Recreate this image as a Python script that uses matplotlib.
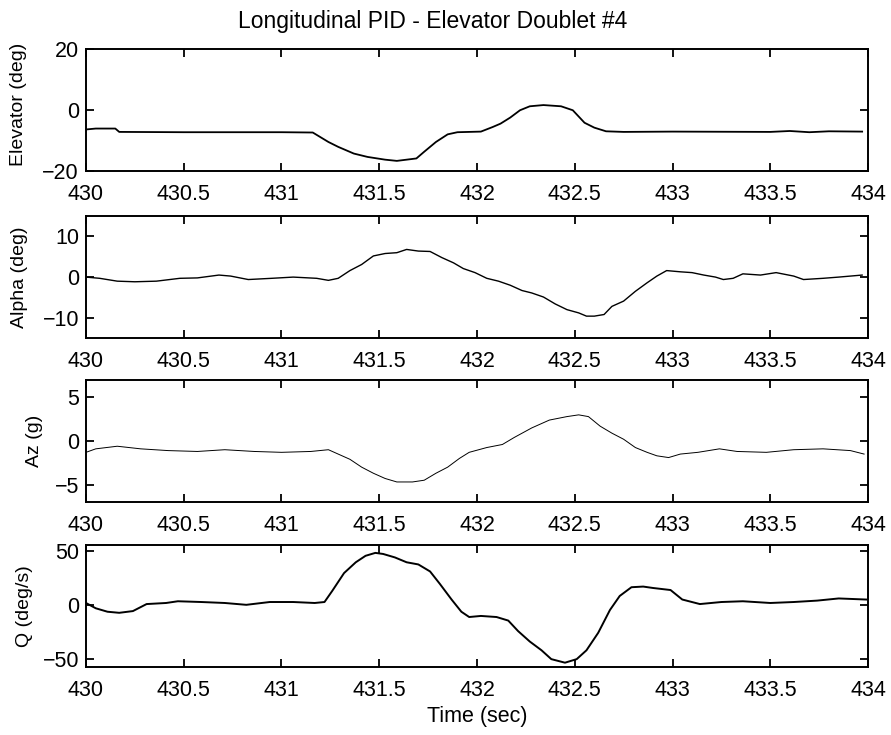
import matplotlib
matplotlib.use("Agg")
import matplotlib.pyplot as plt
import numpy as np

plt.rcParams['font.family'] = ['Liberation Sans', 'DejaVu Sans']

# Elevator (deg)
t_elev = [430.0, 430.05, 430.15, 430.17, 430.5, 431.0, 431.16, 431.24, 431.29, 431.37,
          431.44, 431.53, 431.59, 431.64, 431.69, 431.73, 431.79, 431.85, 431.9, 432.02,
          432.08, 432.12, 432.17, 432.22, 432.27, 432.34, 432.43, 432.49, 432.55, 432.6,
          432.66, 432.75, 433.0, 433.5, 433.6, 433.7, 433.8, 433.97]
elev = [-6.3, -6.0, -6.0, -7.1, -7.2, -7.2, -7.3, -10.4, -12.0, -14.2,
        -15.3, -16.2, -16.6, -16.2, -15.8, -13.6, -10.4, -7.9, -7.2, -7.0,
        -5.5, -4.4, -2.4, 0.0, 1.3, 1.7, 1.3, 0.0, -4.1, -5.7,
        -6.9, -7.1, -7.0, -7.1, -6.8, -7.2, -6.9, -7.0]

# Alpha (deg)
t_alpha = [430.0, 430.07, 430.16, 430.25, 430.36, 430.48, 430.57, 430.68, 430.74, 430.83,
           430.95, 431.06, 431.18, 431.24, 431.29, 431.35, 431.41, 431.47, 431.53, 431.59,
           431.64, 431.7, 431.76, 431.82, 431.88, 431.93, 431.99, 432.05, 432.11, 432.17,
           432.23, 432.28, 432.34, 432.4, 432.46, 432.52, 432.56, 432.6, 432.65, 432.69,
           432.75, 432.81, 432.87, 432.92, 432.97, 433.04, 433.1, 433.16, 433.22, 433.26,
           433.31, 433.36, 433.45, 433.53, 433.62, 433.67, 433.77, 433.85, 433.97]
alpha = [0.0, -0.3, -1.0, -1.15, -1.0, -0.3, -0.2, 0.5, 0.25, -0.6,
         -0.3, 0.0, -0.3, -0.8, -0.3, 1.6, 3.1, 5.2, 5.8, 6.0,
         6.8, 6.4, 6.3, 4.8, 3.5, 2.1, 1.1, -0.3, -1.0, -2.0,
         -3.3, -3.9, -4.9, -6.6, -8.0, -8.8, -9.6, -9.6, -9.2, -7.2,
         -5.9, -3.5, -1.4, 0.25, 1.6, 1.3, 1.1, 0.5, 0.0, -0.6,
         -0.3, 0.8, 0.5, 1.1, 0.25, -0.6, -0.3, 0.0, 0.5]

# Az (g)
t_az = [430.0, 430.05, 430.16, 430.28, 430.42, 430.57, 430.71, 430.86, 431.0, 431.15,
        431.24, 431.29, 431.35, 431.41, 431.47, 431.53, 431.59, 431.67, 431.73, 431.79,
        431.85, 431.91, 431.96, 432.05, 432.13, 432.19, 432.28, 432.37, 432.46, 432.52,
        432.57, 432.63, 432.69, 432.75, 432.81, 432.87, 432.92, 432.98, 433.04, 433.13,
        433.24, 433.33, 433.48, 433.62, 433.77, 433.91, 433.98]
az = [-1.3, -0.9, -0.6, -0.9, -1.1, -1.2, -1.0, -1.2, -1.3, -1.2,
      -1.0, -1.5, -2.1, -3.0, -3.7, -4.3, -4.7, -4.7, -4.5, -3.7,
      -3.0, -2.0, -1.3, -0.75, -0.4, 0.4, 1.5, 2.4, 2.8, 3.0,
      2.8, 1.7, 0.9, 0.2, -0.75, -1.3, -1.7, -1.9, -1.5, -1.3,
      -0.9, -1.2, -1.3, -1.0, -0.9, -1.1, -1.5]

# Q (deg/s)
t_q = [430.0, 430.05, 430.11, 430.17, 430.24, 430.31, 430.41, 430.47, 430.59, 430.71,
       430.82, 430.94, 431.06, 431.17, 431.22, 431.26, 431.32, 431.38, 431.43, 431.48,
       431.52, 431.58, 431.64, 431.7, 431.76, 431.81, 431.87, 431.92, 431.96, 432.02,
       432.1, 432.16, 432.21, 432.27, 432.33, 432.38, 432.45, 432.51, 432.56, 432.62,
       432.68, 432.73, 432.79, 432.85, 432.9, 432.99, 433.05, 433.14, 433.25, 433.36,
       433.5, 433.62, 433.74, 433.85, 433.99]
q = [2.3, -2.6, -5.8, -6.8, -5.2, 1.3, 2.3, 3.9, 3.2, 2.3,
     0.6, 3.2, 3.2, 2.3, 3.2, 13.6, 30.0, 40.0, 46.0, 48.7,
     47.7, 44.5, 40.0, 38.0, 31.5, 20.0, 5.5, -5.8, -10.7, -9.7,
     -10.7, -14.0, -23.7, -33.4, -41.5, -49.7, -53.0, -49.7, -41.5, -25.3,
     -4.2, 8.8, 16.9, 17.5, 16.2, 14.3, 5.5, 1.3, 3.2, 3.9,
     2.3, 3.2, 4.5, 6.5, 5.5]

xticks = np.arange(430, 434.01, 0.5)
xtick_labels = ['430', '430.5', '431', '431.5', '432', '432.5', '433', '433.5', '434']

# (t, y, etiket, ylim, yticks, cizgi kalinligi, alt kenar, etiket x, etiket y)
panels = [
    (t_elev, elev, 'Elevator (deg)', (-20, 20), [-20, 0, 20], 1.3, 0.767, -0.075, 0.55),
    (t_alpha, alpha, 'Alpha (deg)', (-15, 15), [-10, 0, 10], 1.0, 0.540, -0.074, 0.5),
    (t_az, az, 'Az (g)', (-7, 7), [-5, 0, 5], 0.7, 0.317, -0.055, 0.5),
    (t_q, q, 'Q (deg/s)', (-57, 56), [-50, 0, 50], 1.4, 0.0925, -0.068, 0.5),
]

fig = plt.figure(figsize=(8.91, 7.35), dpi=100)

for t, y, lab, ylim, yt, lw, bottom, lx, ly in panels:
    ax = fig.add_axes([0.0965, bottom, 0.8777, 0.166])
    ax.plot(t, y, color='black', linewidth=lw)
    ax.set_xlim(430, 434)
    ax.set_ylim(*ylim)
    ax.set_xticks(xticks)
    ax.set_xticklabels(xtick_labels)
    ax.set_yticks(yt)
    ax.tick_params(direction='in', top=True, right=True, length=6, width=1.3,
                   labelsize=15.5)
    ax.tick_params(axis='x', pad=9)
    ax.tick_params(axis='y', pad=5)
    for s in ax.spines.values():
        s.set_linewidth(1.4)
    ax.set_ylabel(lab, fontsize=14)
    ax.yaxis.set_label_coords(lx, ly)

ax.set_xlabel('Time (sec)', fontsize=15.5)
fig.text(0.485, 0.971, 'Longitudinal PID - Elevator Doublet #4', ha='center', va='center',
         fontsize=16.5)

plt.savefig('out.png', dpi=100)
